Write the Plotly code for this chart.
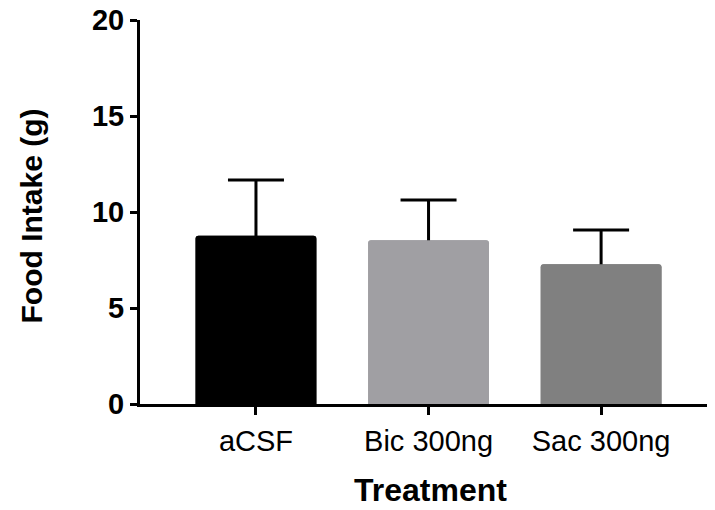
import plotly.graph_objects as go

categories = ["aCSF", "Bic 300ng", "Sac 300ng"]
means = [8.76, 8.53, 7.28]
errors = [2.91, 2.10, 1.78]
colors = ["#000000", "#A09FA3", "#808080"]
y_ticks = [0, 5, 10, 15, 20]

# page body has an 8px margin; lay out in figure coordinates accordingly
W, H = 707, 502
L, T, B = 132, 12, 106
PW, PH = W - L, H - T - B


def px(x):
    return (x - L) / PW


def py(y):
    return (H - B - y) / PH


xs = list(range(len(categories)))
fig = go.Figure()
fig.add_trace(go.Bar(
    x=xs, y=means, width=0.70,
    marker=dict(color=colors, line=dict(width=0), cornerradius=3),
    error_y=dict(type="data", array=errors, color="#000000",
                 thickness=3, width=28),
    hoverinfo="skip",
))
fig.add_trace(go.Bar(
    x=xs, y=means, width=0.70,
    marker=dict(color=colors, line=dict(width=0), cornerradius=3),
))

fig.update_layout(
    width=W, height=H,
    margin=dict(l=L, r=0, t=T, b=B, autoexpand=False),
    plot_bgcolor="white", paper_bgcolor="white",
    showlegend=False, barmode="overlay",
    font=dict(family="Liberation Sans, Arial, sans-serif", color="black"),
    annotations=[
        dict(text="<b>Treatment</b>", xref="paper", yref="paper",
             x=px(422.5), y=py(482),
             xanchor="center", yanchor="middle", showarrow=False,
             font=dict(size=32)),
        dict(text="<b>Food Intake (g)</b>", xref="paper", yref="paper",
             x=px(23), y=py(208.5), textangle=-90,
             xanchor="center", yanchor="middle", showarrow=False,
             font=dict(size=30)),
    ],
)
fig.update_xaxes(
    range=[-0.672, 2.66], automargin=False,
    tickmode="array", tickvals=xs, ticktext=categories,
    showline=True, linecolor="black", linewidth=3,
    ticks="outside", ticklen=8, tickwidth=3, tickcolor="black",
    tickfont=dict(size=29), ticklabelstandoff=1,
    showgrid=False, zeroline=False,
)
fig.update_yaxes(
    range=[0, 20], automargin=False, ticklabeloverflow="allow",
    tickmode="array", tickvals=y_ticks, ticktext=[f"<b>{v}</b>" for v in y_ticks],
    showline=True, linecolor="black", linewidth=3,
    ticks="outside", ticklen=7, tickwidth=3, tickcolor="black",
    tickfont=dict(size=29), ticklabelstandoff=0,
    showgrid=False, zeroline=False,
)

fig.write_html("out.html")
